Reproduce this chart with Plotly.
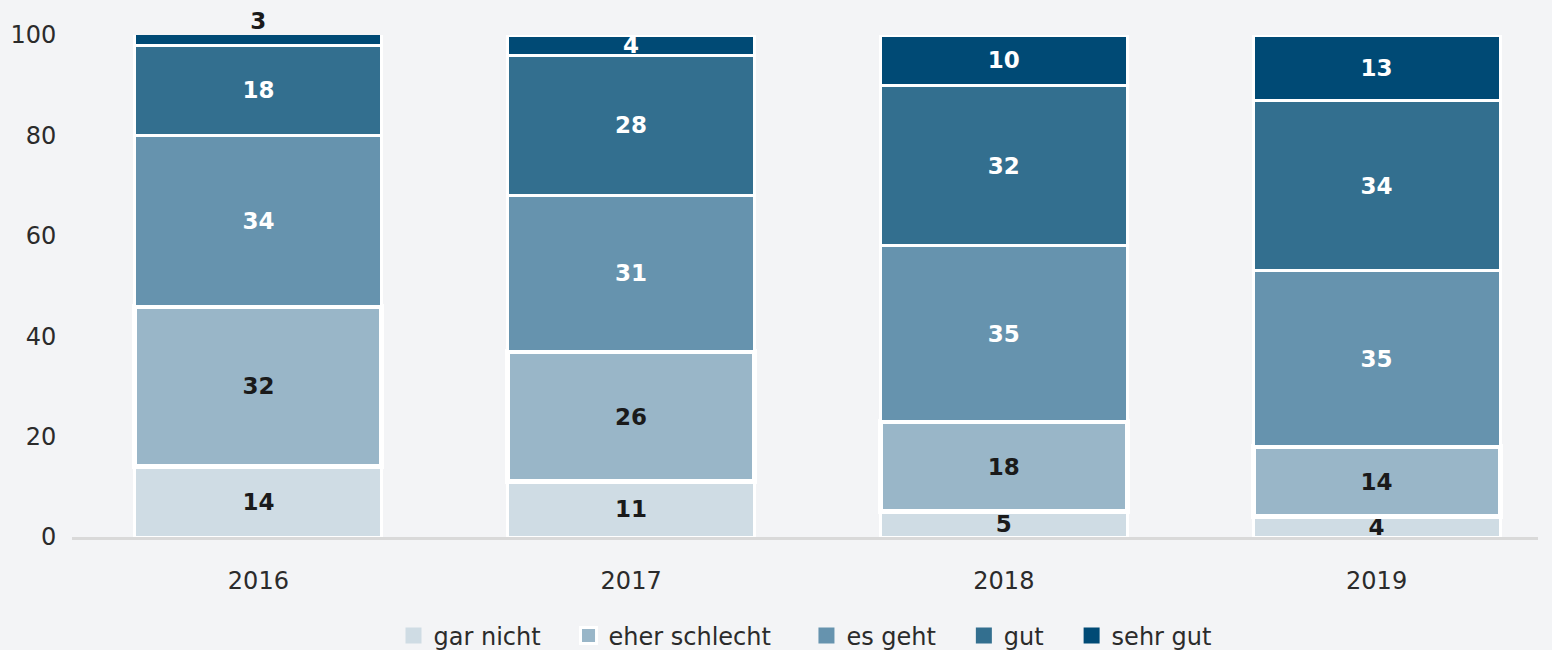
import plotly.graph_objects as go

years = ["2016", "2017", "2018", "2019"]
gar_nicht = [14, 11, 5, 4]
eher_schlecht = [32, 26, 18, 14]
es_geht = [34, 31, 35, 35]
gut = [18, 28, 32, 34]
sehr_gut = [3, 4, 10, 13]

series = [
    ("gar nicht", gar_nicht, "#cfdce4", "#1a1a1a", 3),
    ("eher schlecht", eher_schlecht, "#99b6c8", "#1a1a1a", 5),
    ("es geht", es_geht, "#6693ae", "#ffffff", 3),
    ("gut", gut, "#336f8f", "#ffffff", 3),
    ("sehr gut", sehr_gut, "#004a75", "#ffffff", 3),
]

BG = "#f3f4f6"
FONT = "DejaVu Sans"
TXT = "#2b2b2b"
Y_MAX = 100
legend_pad = {"gar nicht": 3, "eher schlecht": 4, "es geht": 3, "gut": 3, "sehr gut": 0}

fig = go.Figure()
totals = [0] * len(years)
for name, vals, color, tcolor, lw in series:
    for i, v in enumerate(vals):
        totals[i] += v
    if name == "sehr gut":
        tpos = ["none" if v < 4 else "inside" for v in vals]
    else:
        tpos = "inside"
    fig.add_trace(go.Bar(
        name=name,
        x=years,
        y=vals,
        width=0.663,
        marker=dict(color=color, line=dict(color="#ffffff", width=lw)),
        text=[str(v) for v in vals],
        textposition=tpos,
        insidetextanchor="middle",
        constraintext="none",
        textangle=0,
        textfont=dict(family=FONT, size=23, color=tcolor, weight="bold"),
        insidetextfont=dict(family=FONT, size=23, color=tcolor, weight="bold"),
        cliponaxis=False,
        hoverinfo="skip",
        showlegend=False,
    ))

# small top segments labelled above the bar
small_x = [years[i] for i, v in enumerate(sehr_gut) if v < 4]
small_y = [min(totals[i], Y_MAX) for i, v in enumerate(sehr_gut) if v < 4]
small_t = [str(v) for v in sehr_gut if v < 4]
fig.add_trace(go.Scatter(
    x=small_x, y=small_y, text=small_t, mode="text",
    textposition="top center",
    textfont=dict(family=FONT, size=23, color="#1a1a1a", weight="bold"),
    cliponaxis=False, showlegend=False, hoverinfo="skip",
))

# legend entries with square swatches
for name, vals, color, tcolor, lw in series:
    label = name + "\u00a0" * legend_pad[name]
    fig.add_trace(go.Scatter(
        x=[None], y=[None], mode="markers", name=label,
        marker=dict(symbol="square", size=16, color=color,
                    line=dict(color="#ffffff", width=3 if name == "eher schlecht" else 0)),
        showlegend=True, hoverinfo="skip",
    ))

fig.update_layout(
    width=1552,
    height=650,
    barmode="stack",
    paper_bgcolor=BG,
    plot_bgcolor=BG,
    margin=dict(l=72, r=14, t=35, b=113, autoexpand=False),
    font=dict(family=FONT, size=24, color=TXT),
    showlegend=True,
    legend=dict(
        orientation="h",
        x=0.5, xanchor="center",
        yref="container",
        y=(650 - 636) / 650, yanchor="middle",
        traceorder="normal",
        font=dict(family=FONT, size=24, color=TXT),
        bgcolor="rgba(0,0,0,0)",
        itemclick=False,
    ),
    xaxis=dict(
        type="category",
        range=[-0.5, 3.433],
        showline=True,
        linecolor="#d9d9d9",
        linewidth=3,
        showgrid=False,
        ticks="outside",
        ticklen=20,
        tickcolor=BG,
        tickfont=dict(family=FONT, size=24, color=TXT),
    ),
    yaxis=dict(
        range=[0, Y_MAX],
        tickvals=[0, 20, 40, 60, 80, 100],
        showgrid=False,
        zeroline=False,
        showline=False,
        ticks="outside",
        ticklen=10,
        tickcolor=BG,
        tickfont=dict(family=FONT, size=24, color=TXT),
    ),
)

fig.write_html(
    "out.html",
    config={"displayModeBar": False},
    post_script="document.body.style.margin='0';document.body.style.background='#f3f4f6';",
)
